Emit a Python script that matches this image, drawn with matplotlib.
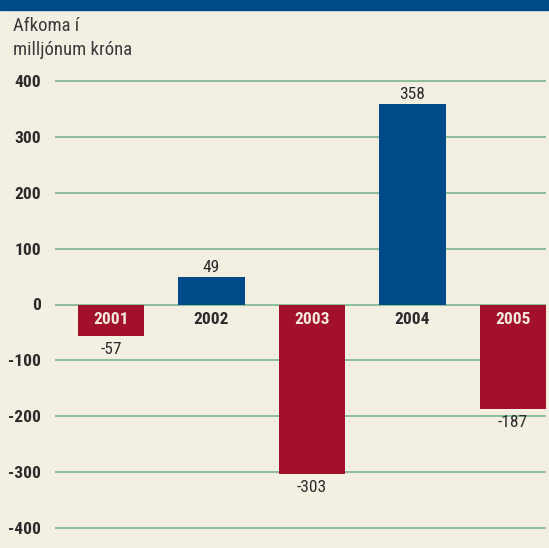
import matplotlib.pyplot as plt
from matplotlib.patches import Rectangle

years = ['2001', '2002', '2003', '2004', '2005']
values = [-57, 49, -303, 358, -187]
yticks = [-400, -300, -200, -100, 0, 100, 200, 300, 400]

blue = '#004a87'
red = '#a3102b'
bg = '#f3f0e3'
grid = '#8fbf9a'
txt = '#2b2b2b'
font = ['Roboto Condensed', 'DejaVu Sans']

W, H = 549, 548
fig = plt.figure(figsize=(W / 100, H / 100), dpi=100)
fig.patch.set_facecolor(bg)

# top strip
fig.add_artist(Rectangle((0, 1 - 10 / H), 1, 10 / H, transform=fig.transFigure,
                         color=blue, zorder=0))

# axes: ylim -420..420, 0.5595 px per unit, zero at y=304.5
ppu = 0.5595
top_px = 304.5 - 420 * ppu
bot_px = 304.5 + 420 * ppu
ax = fig.add_axes([55 / W, 1 - bot_px / H, (546 - 55) / W, (bot_px - top_px) / H])
ax.set_facecolor(bg)
ax.set_ylim(-420, 420)
ax.set_xlim(-0.557, 4.33)

for t in yticks:
    ax.axhline(t, color=grid, lw=1.5, zorder=1)

x = list(range(len(years)))
colors = [red if v < 0 else blue for v in values]
ax.bar(x, values, width=0.66, color=colors, zorder=2)

for i, (yr, v) in enumerate(zip(years, values)):
    # year label just below zero line
    ax.text(i, -13, yr, ha='center', va='top', fontsize=12.5, fontweight='bold',
            family=font, color='#f3e9dc' if v < 0 else txt, zorder=3)
    if v < 0:
        ax.text(i, v - 10, str(v), ha='center', va='top', fontsize=12.5,
                family=font, color=txt, zorder=3)
    else:
        ax.text(i, v + 4, str(v), ha='center', va='bottom', fontsize=12.5,
                family=font, color=txt, zorder=3)

ax.set_yticks(yticks)
ax.set_yticklabels([str(t) for t in yticks], family=font, fontweight='bold',
                   fontsize=12.5, color=txt)
ax.tick_params(axis='y', length=0, pad=10)
ax.set_xticks([])
for s in ax.spines.values():
    s.set_visible(False)

fig.text(13 / W, 1 - 17 / H, 'Afkoma í\nmilljónum króna', ha='left', va='top',
         fontsize=13.5, family=font, color='#3a3a3a', linespacing=1.45)

fig.savefig('out.png', dpi=100, facecolor=bg)
